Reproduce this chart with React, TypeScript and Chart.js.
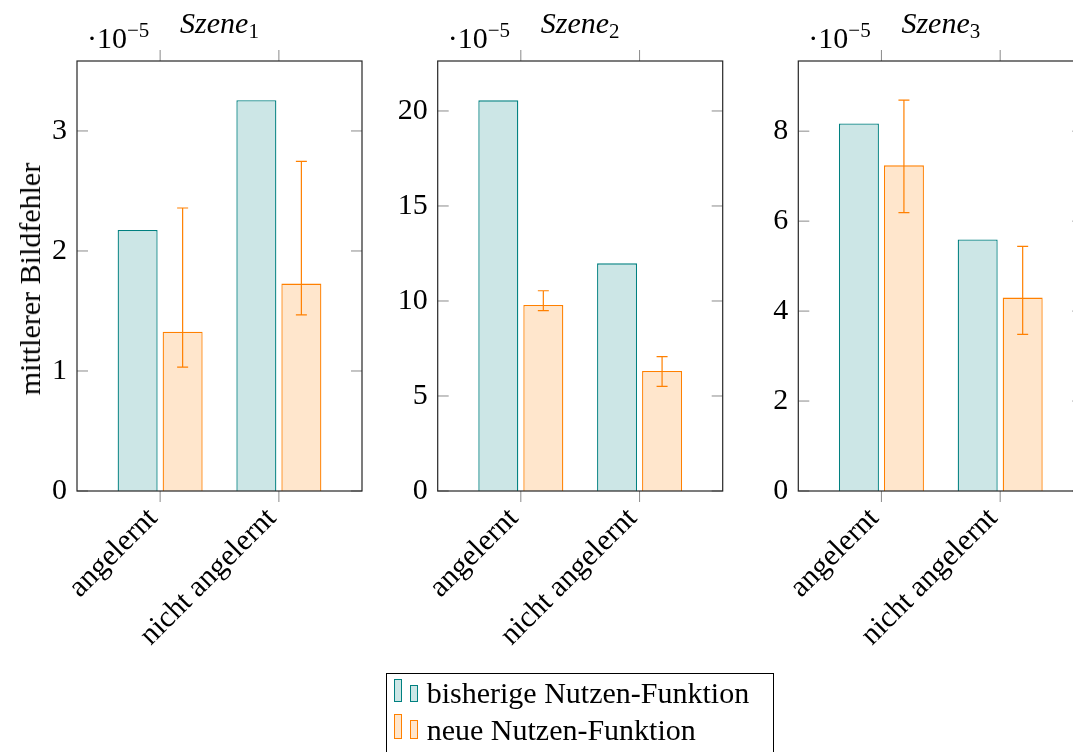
import React, { useEffect, useRef } from "react";
import { Chart, registerables } from "chart.js";

Chart.register(...registerables);

// ---------- data ----------
const categories = ["angelernt", "nicht angelernt"];
const seriesNames = ["bisherige Nutzen-Funktion", "neue Nutzen-Funktion"];
const sceneTitles = ["1", "2", "3"];

const scene1Old = [2.175, 3.256];
const scene1New = [1.327, 1.728];
const scene1ErrLow = [1.033, 1.467];
const scene1ErrHigh = [2.358, 2.747];
const scene1Ticks = [0, 1, 2, 3];
const scene1Max = 3.583;

const scene2Old = [20.56, 11.98];
const scene2New = [9.79, 6.32];
const scene2ErrLow = [9.49, 5.51];
const scene2ErrHigh = [10.54, 7.07];
const scene2Ticks = [0, 5, 10, 15, 20];
const scene2Max = 22.63;

const scene3Old = [8.17, 5.59];
const scene3New = [7.24, 4.3];
const scene3ErrLow = [6.19, 3.48];
const scene3ErrHigh = [8.69, 5.44];
const scene3Ticks = [0, 2, 4, 6, 8];
const scene3Max = 9.56;

// ---------- styling / layout ----------
const FONT = "'Liberation Serif', 'Times New Roman', serif";
const FS = 30;
const TEAL = "#008080";
const TEAL_FILL = "#cce6e6";
const ORANGE = "#ff8000";
const ORANGE_FILL = "#ffe6cc";
const TICK_GRAY = "#8a8a8a";
const CANVAS_W = 1100;
const CANVAS_H = 752;
const BOX_TOP = 61;
const BOX_BOTTOM = 491;
const Y_AXIS_W = 70;
const X_AXIS_H = 200;
const TICK_LEN = 11;

const scenes = [
  { old: scene1Old, neu: scene1New, lo: scene1ErrLow, hi: scene1ErrHigh, ticks: scene1Ticks, max: scene1Max, boxLeft: 77, boxRight: 362 },
  { old: scene2Old, neu: scene2New, lo: scene2ErrLow, hi: scene2ErrHigh, ticks: scene2Ticks, max: scene2Max, boxLeft: 437.7, boxRight: 722.7 },
  { old: scene3Old, neu: scene3New, lo: scene3ErrLow, hi: scene3ErrHigh, ticks: scene3Ticks, max: scene3Max, boxLeft: 798.3, boxRight: 1083.3 },
];

function makePlugin(lo: number[], hi: number[]) {
  return {
    id: "frameAndErrors",
    afterDatasetsDraw(chart: any) {
      const ctx = chart.ctx;
      const { left, right, top, bottom } = chart.chartArea;
      const xs = chart.scales.x;
      const ys = chart.scales.y;
      ctx.save();
      // error bars on the second series
      const meta = chart.getDatasetMeta(1);
      ctx.strokeStyle = ORANGE;
      ctx.lineWidth = 1.2;
      meta.data.forEach((el: any, i: number) => {
        const x = el.x;
        const yl = ys.getPixelForValue(lo[i]);
        const yh = ys.getPixelForValue(hi[i]);
        ctx.beginPath();
        ctx.moveTo(x, yl);
        ctx.lineTo(x, yh);
        ctx.moveTo(x - 5.5, yl);
        ctx.lineTo(x + 5.5, yl);
        ctx.moveTo(x - 5.5, yh);
        ctx.lineTo(x + 5.5, yh);
        ctx.stroke();
      });
      // tick marks
      ctx.strokeStyle = TICK_GRAY;
      ctx.lineWidth = 1;
      ctx.beginPath();
      ys.ticks.forEach((t: any) => {
        const y = ys.getPixelForValue(t.value);
        ctx.moveTo(left, y);
        ctx.lineTo(left + TICK_LEN, y);
        ctx.moveTo(right, y);
        ctx.lineTo(right - TICK_LEN, y);
      });
      xs.ticks.forEach((t: any) => {
        const x = xs.getPixelForValue(t.value);
        ctx.moveTo(x, top);
        ctx.lineTo(x, top - TICK_LEN);
        ctx.moveTo(x, bottom);
        ctx.lineTo(x, bottom + TICK_LEN);
      });
      ctx.stroke();
      // frame
      ctx.strokeStyle = "#262626";
      ctx.lineWidth = 1.2;
      ctx.strokeRect(left, top, right - left, bottom - top);
      ctx.restore();
    },
  };
}

function SceneChart({ idx }: { idx: number }) {
  const ref = useRef<HTMLCanvasElement | null>(null);
  useEffect(() => {
    const s = scenes[idx];
    const chart = new Chart(ref.current as HTMLCanvasElement, {
      type: "bar",
      data: {
        datasets: [
          {
            label: seriesNames[0],
            data: s.old.map((v, i) => ({ x: i, y: v })),
            backgroundColor: TEAL_FILL,
            borderColor: TEAL,
            borderWidth: 1.3,
            categoryPercentage: 0.758,
            barPercentage: 0.889,
          },
          {
            label: seriesNames[1],
            data: s.neu.map((v, i) => ({ x: i, y: v })),
            backgroundColor: ORANGE_FILL,
            borderColor: ORANGE,
            borderWidth: 1.3,
            categoryPercentage: 0.758,
            barPercentage: 0.889,
          },
        ],
      } as any,
      options: {
        animation: false,
        responsive: false,
        devicePixelRatio: 1,
        events: [],
        layout: {
          padding: {
            left: s.boxLeft - Y_AXIS_W,
            right: CANVAS_W - s.boxRight,
            top: BOX_TOP,
            bottom: CANVAS_H - BOX_BOTTOM - X_AXIS_H,
          },
        },
        plugins: { legend: { display: false }, tooltip: { enabled: false }, title: { display: false } },
        scales: {
          x: {
            type: "linear",
            min: -0.7,
            max: 1.7,
            offset: false,
            grid: { display: false, drawTicks: false },
            border: { display: false },
            afterBuildTicks: (sc: any) => {
              sc.ticks = categories.map((_, i) => ({ value: i }));
            },
            afterFit: (sc: any) => {
              sc.height = X_AXIS_H;
            },
            ticks: {
              autoSkip: false,
              minRotation: 45,
              maxRotation: 45,
              padding: 10,
              labelOffset: -7,
              color: "#000",
              font: { family: FONT, size: FS },
              callback: (v: any) => categories[v as number] ?? "",
            },
          },
          y: {
            type: "linear",
            min: 0,
            max: s.max,
            grid: { display: false, drawTicks: false },
            border: { display: false },
            afterBuildTicks: (sc: any) => {
              sc.ticks = s.ticks.map((v) => ({ value: v }));
            },
            afterFit: (sc: any) => {
              sc.width = Y_AXIS_W;
            },
            ticks: {
              padding: 10,
              color: "#000",
              font: { family: FONT, size: FS },
            },
          },
        },
      } as any,
      plugins: [makePlugin(s.lo, s.hi)],
    });
    return () => chart.destroy();
  }, [idx]);
  return (
    <canvas
      ref={ref}
      width={CANVAS_W}
      height={CANVAS_H}
      style={{ position: "absolute", left: 0, top: 0, width: CANVAS_W, height: CANVAS_H }}
    />
  );
}

const textBase: React.CSSProperties = {
  position: "absolute",
  fontFamily: FONT,
  fontSize: FS,
  lineHeight: FS + "px",
  color: "#000",
  whiteSpace: "nowrap",
};

function LegendMarker({ top, color, fill, h1, h2 }: { top: number; color: string; fill: string; h1: number; h2: number }) {
  const bottom = top;
  return (
    <>
      <div style={{ position: "absolute", left: 394, top: bottom - h1, width: 8, height: h1, boxSizing: "border-box", border: `1px solid ${color}`, background: fill }} />
      <div style={{ position: "absolute", left: 410, top: bottom - h2, width: 8, height: h2, boxSizing: "border-box", border: `1px solid ${color}`, background: fill }} />
    </>
  );
}

export default function App() {
  return (
    <div style={{ position: "fixed", left: 0, top: 0, width: 1073, height: 752, overflow: "hidden", background: "#fff" }}>
      {scenes.map((_, i) => (
        <SceneChart key={i} idx={i} />
      ))}
      {scenes.map((s, i) => (
        <React.Fragment key={"t" + i}>
          <div style={{ ...textBase, left: s.boxLeft, width: s.boxRight - s.boxLeft, top: 8, textAlign: "center", fontStyle: "italic" }}>
            Szene
            <span style={{ fontStyle: "normal", fontSize: 21, position: "relative", top: 5 }}>{sceneTitles[i]}</span>
          </div>
          <div style={{ ...textBase, left: s.boxLeft + 10, top: 23 }}>
            ·10
            <span style={{ fontSize: 21, position: "relative", top: -11 }}>−5</span>
          </div>
        </React.Fragment>
      ))}
      <div style={{ ...textBase, left: 30, top: 279, transform: "translate(-50%, -50%) rotate(-90deg)" }}>mittlerer Bildfehler</div>
      <div style={{ position: "absolute", left: 385.7, top: 672.7, width: 388.6, height: 120, boxSizing: "border-box", border: "1px solid #000" }} />
      <LegendMarker top={702} color={TEAL} fill={TEAL_FILL} h1={23} h2={17} />
      <LegendMarker top={738.5} color={ORANGE} fill={ORANGE_FILL} h1={25} h2={18.5} />
      <div style={{ ...textBase, left: 426.7, top: 678 }}>{seriesNames[0]}</div>
      <div style={{ ...textBase, left: 426.7, top: 715 }}>{seriesNames[1]}</div>
    </div>
  );
}
